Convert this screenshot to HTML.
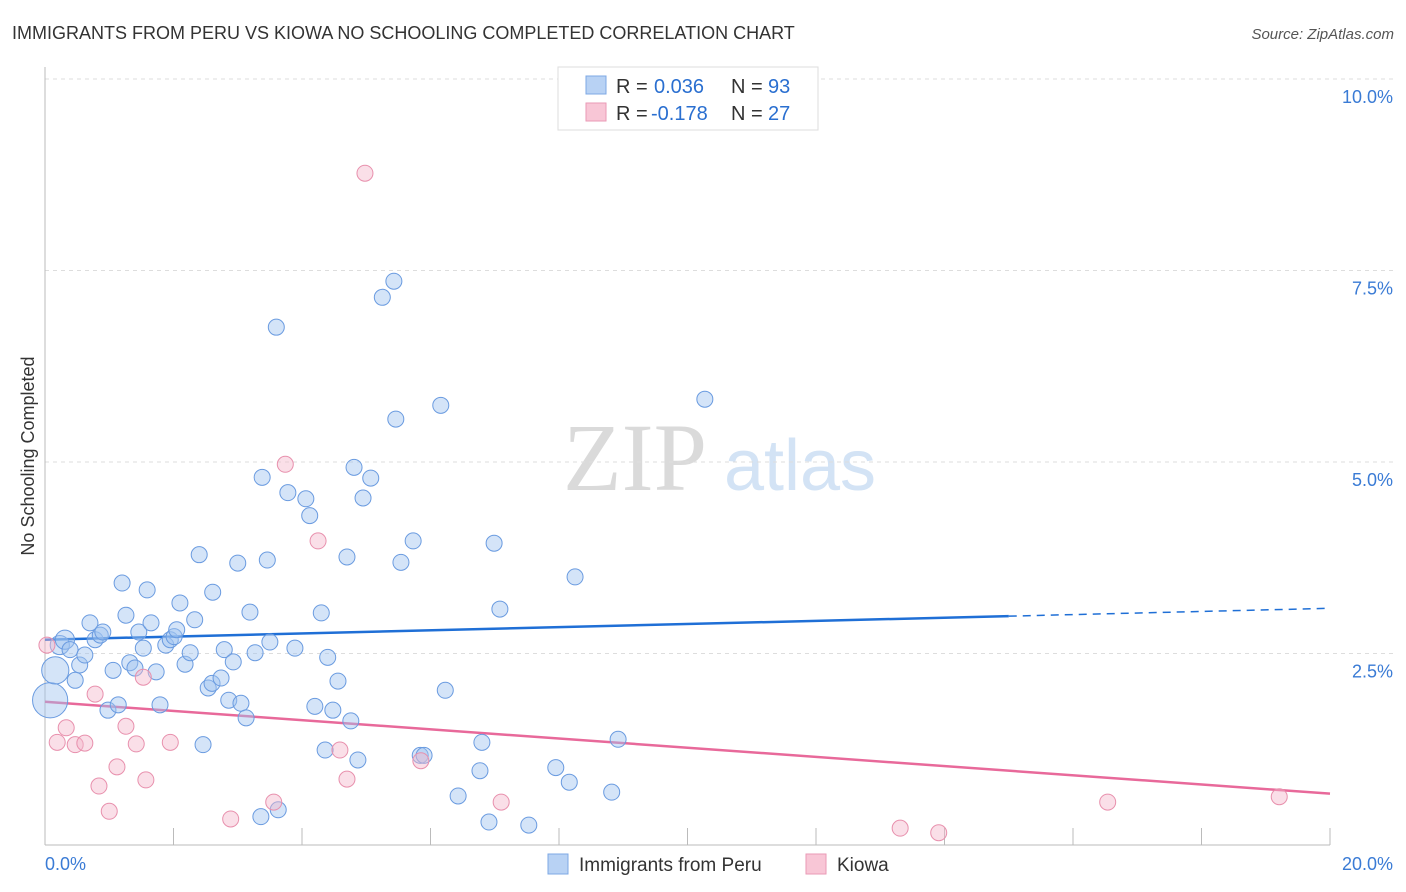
<!DOCTYPE html>
<html><head><meta charset="utf-8"><style>
body{margin:0;background:#fff;font-family:"Liberation Sans",sans-serif}
svg{display:block}
</style></head><body>
<svg id="chart" width="1406" height="892" xmlns="http://www.w3.org/2000/svg">
<text x="12" y="39" font-size="18" fill="#333">IMMIGRANTS FROM PERU VS KIOWA NO SCHOOLING COMPLETED CORRELATION CHART</text>
<text x="1394" y="39" font-size="15" fill="#555" text-anchor="end" font-style="italic">Source: ZipAtlas.com</text>
<text x="635" y="490" font-size="96" fill="#dadada" font-family="Liberation Serif,serif" text-anchor="middle">ZIP</text>
<text x="800" y="490" font-size="72" fill="#d3e3f5" text-anchor="middle">atlas</text>
<text transform="translate(34,456) rotate(-90)" font-size="18" fill="#333" text-anchor="middle">No Schooling Completed</text>
<g id="grid"></g><g id="axes"></g><g id="lines"></g><g id="points"></g>
<g>
<rect x="558" y="67" width="260" height="63" fill="#fff" stroke="#ddd"/>
<rect x="586" y="76" width="20" height="18" fill="#b8d2f4" stroke="#7ea8e4"/>
<text x="616" y="93" font-size="20" fill="#333">R =</text>
<text x="654" y="93" font-size="20" fill="#2a6fd0">0.036</text>
<text x="731" y="93" font-size="20" fill="#333">N =</text>
<text x="768" y="93" font-size="20" fill="#2a6fd0">93</text>
<rect x="586" y="103" width="20" height="18" fill="#f8c6d6" stroke="#ea9ab6"/>
<text x="616" y="120" font-size="20" fill="#333">R =</text>
<text x="651" y="120" font-size="20" fill="#2a6fd0">-0.178</text>
<text x="731" y="120" font-size="20" fill="#333">N =</text>
<text x="768" y="120" font-size="20" fill="#2a6fd0">27</text>
</g>
<g>
<rect x="548" y="854" width="20" height="20" fill="#b8d2f4" stroke="#7ea8e4"/>
<text x="579" y="871" font-size="19" fill="#333">Immigrants from Peru</text>
<rect x="806" y="854" width="20" height="20" fill="#f8c6d6" stroke="#ea9ab6"/>
<text x="837" y="871" font-size="19" fill="#333">Kiowa</text>
</g>
</svg>
<script>
const blueX=[0.08,0.16,0.23,0.31,0.39,0.47,0.54,0.62,0.70,0.78,0.86,0.90,0.98,1.06,1.14,1.20,1.26,1.32,1.40,1.46,1.53,1.59,1.65,1.73,1.79,1.88,1.95,2.01,2.05,2.10,2.18,2.26,2.33,2.40,2.46,2.54,2.61,2.60,2.74,2.79,2.86,2.93,3.00,3.05,3.13,3.19,3.27,3.38,3.46,3.50,3.60,3.63,3.36,3.78,3.89,4.06,4.12,4.20,4.30,4.36,4.40,4.48,4.56,4.70,4.76,4.81,4.87,4.95,5.07,5.25,5.43,5.46,5.54,5.73,5.84,5.90,6.16,6.23,6.43,6.77,6.80,6.91,6.99,7.08,7.53,7.95,8.16,8.25,8.82,8.92,10.27];
const blueY=[1.89,2.28,2.61,2.68,2.55,2.15,2.35,2.48,2.90,2.68,2.74,2.78,1.76,2.28,1.83,3.42,3.00,2.38,2.31,2.78,2.57,3.33,2.90,2.26,1.83,2.61,2.68,2.72,2.81,3.16,2.36,2.51,2.94,3.79,1.31,2.05,3.30,2.11,2.18,2.55,1.89,2.39,3.68,1.85,1.66,3.04,2.51,4.80,3.72,2.65,6.76,0.46,0.37,4.60,2.57,4.52,4.30,1.81,3.03,1.24,2.45,1.76,2.14,3.76,1.62,4.93,1.11,4.53,4.79,7.15,7.36,5.56,3.69,3.97,1.17,1.17,5.74,2.02,0.64,0.97,1.34,0.30,3.94,3.08,0.26,1.01,0.82,3.50,0.69,1.38,5.82];
const blueWeight=[2.2,1.7,1.2,1.2];
const pinkX=[0.03,0.19,0.33,0.47,0.62,0.78,0.84,1.00,1.12,1.26,1.42,1.53,1.57,1.95,2.89,3.56,3.74,4.25,4.59,4.70,4.98,5.85,7.10,13.31,13.91,16.54,19.21];
const pinkY=[2.61,1.34,1.53,1.31,1.33,1.97,0.77,0.44,1.02,1.55,1.32,2.19,0.85,1.34,0.34,0.56,4.97,3.97,1.24,0.86,8.77,1.10,0.56,0.22,0.16,0.56,0.63];
const yTicks=[2.5,5,7.5,10];
const yTickLabels=["2.5%","5.0%","7.5%","10.0%"];
const xTicks=[0,2,4,6,8,10,12,14,16,18,20];
const blueTrend=[2.68,3.09];
const pinkTrend=[1.87,0.67];
const NS="http://www.w3.org/2000/svg";
const sx=v=>45+v*64.25, sy=v=>845-v*76.6;
function mk(tag,attrs,parent){const e=document.createElementNS(NS,tag);for(const k in attrs)e.setAttribute(k,attrs[k]);document.getElementById(parent).appendChild(e);return e;}
yTicks.forEach((t,i)=>{
 const l=mk('line',{x1:45,x2:1393,y1:sy(t),y2:sy(t),stroke:'#ddd','stroke-dasharray':'4,4'},'grid');
 
 
 const tx=mk('text',{x:1393,y:sy(t)+24,'font-size':18,fill:'#3a7bd5','text-anchor':'end'},'grid');
 tx.textContent=yTickLabels[i];
 
 
});
const ax=mk('line',{x1:45,x2:1330,y1:845,y2:845,stroke:'#bbb'},'axes');


const ay=mk('line',{x1:45,x2:45,y1:67,y2:845,stroke:'#bbb'},'axes');


xTicks.forEach(t=>{const l=mk('line',{x1:sx(t),x2:sx(t),y1:828,y2:845,stroke:'#bbb'},'axes');
 
 });
const xl0=mk('text',{x:45,y:870,'font-size':18,fill:'#3a7bd5'},'axes');xl0.textContent='0.0%';


const xl1=mk('text',{x:1393,y:870,'font-size':18,fill:'#3a7bd5','text-anchor':'end'},'axes');xl1.textContent='20.0%';


blueX.forEach((x,i)=>{const c=mk('circle',{cx:sx(x),cy:sy(blueY[i]),r:8*(blueWeight[i]||1),fill:'rgba(160,196,240,0.45)',stroke:'#6a9be0','stroke-width':1},'points');
 
 });
pinkX.forEach((x,i)=>{const c=mk('circle',{cx:sx(x),cy:sy(pinkY[i]),r:8,fill:'rgba(244,184,204,0.45)',stroke:'#e890ad','stroke-width':1},'points');
 
 });
const bAt=x=>blueTrend[0]+(blueTrend[1]-blueTrend[0])*x/20;
const b1=mk('line',{x1:sx(0),y1:sy(bAt(0)),x2:sx(15),y2:sy(bAt(15)),stroke:'#1f6fd6','stroke-width':2.5},'lines');


const b2=mk('line',{x1:sx(15),y1:sy(bAt(15)),x2:sx(20),y2:sy(bAt(20)),stroke:'#1f6fd6','stroke-width':1.5,'stroke-dasharray':'8,6'},'lines');


const p1=mk('line',{x1:sx(0),y1:sy(pinkTrend[0]),x2:sx(20),y2:sy(pinkTrend[1]),stroke:'#e8699a','stroke-width':2.5},'lines');


</script>
</body></html>
